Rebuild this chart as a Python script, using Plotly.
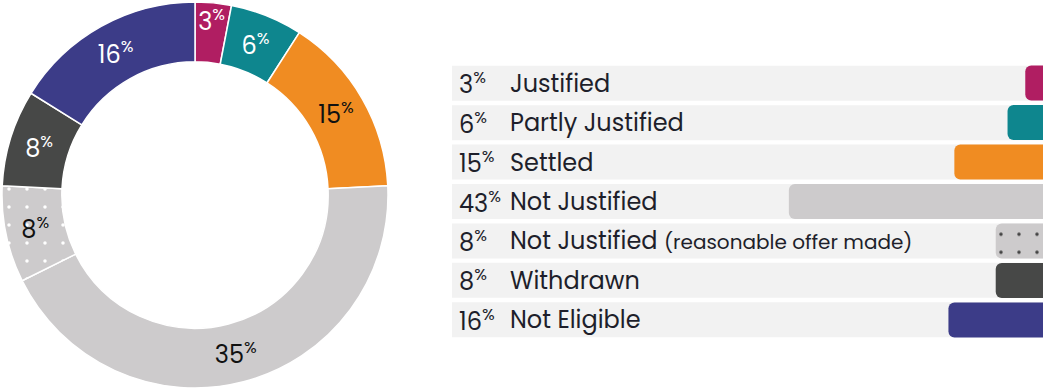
import plotly.graph_objects as go

# ---- data ----
categories = ["Justified", "Partly Justified", "Settled", "Not Justified",
              "Not Justified (reasonable offer made)", "Withdrawn", "Not Eligible"]
percentages = [3, 6, 15, 43, 8, 8, 16]
donut_labels = ["3", "6", "15", "35", "8", "8", "16"]
legend_names = ["Justified", "Partly Justified", "Settled", "Not Justified",
                "Not Justified <span style='font-size:20px'>(reasonable offer made)</span>",
                "Withdrawn", "Not Eligible"]
track_max = 100

# ---- style ----
colors = ["#B01E62", "#0E868E", "#F08C22", "#CDCBCC", "#CDCBCC", "#474847", "#3C3C88"]
patterns = ["", "", "", "", ".", "", ""]
donut_text_colors = ["white", "white", "#111111", "#111111", "#111111", "white", "white"]
FONT = "Poppins, Lato, sans-serif"
W, H = 1043, 390

pie_pattern = dict(shape=patterns, fgcolor="white", bgcolor=colors, fgopacity=1,
                   size=18, solidity=0.03, fillmode="replace")
bar_pattern = dict(shape=patterns, fgcolor="white", fgopacity=1,
                   size=18, solidity=0.03, fillmode="overlay")

fig = go.Figure()

fig.add_trace(go.Pie(
    values=percentages,
    labels=categories,
    text=[f"{t}<sup>%</sup>" for t in donut_labels],
    texttemplate="%{text}",
    textposition="inside",
    insidetextorientation="horizontal",
    textfont=dict(family=FONT, size=24, color=donut_text_colors),
    sort=False,
    direction="clockwise",
    rotation=0,
    hole=0.69,
    marker=dict(colors=colors, line=dict(color="white", width=1.5), pattern=pie_pattern),
    domain=dict(x=[2 / W, 388 / W], y=[2 / H, 388 / H]),
    showlegend=False,
    hoverinfo="label+value",
))

# background tracks (own subplot)
fig.add_trace(go.Bar(
    y=categories, x=[track_max] * len(categories), orientation="h",
    marker=dict(color="#F2F2F2", line=dict(width=0)),
    xaxis="x2", yaxis="y2", hoverinfo="skip", showlegend=False,
))
# coloured bars (overlaying subplot)
fig.add_trace(go.Bar(
    y=categories, x=percentages, orientation="h",
    marker=dict(color=colors, line=dict(width=0), cornerradius=6, pattern=bar_pattern),
    xaxis="x3", yaxis="y3", showlegend=False,
))

annotations = []
for cat, pct, name in zip(categories, percentages, legend_names):
    annotations.append(dict(
        x=457 / W, xref="paper", y=cat, yref="y2", xanchor="left", yanchor="middle",
        text=f"{pct}<sup>%</sup>", showarrow=False,
        font=dict(family=FONT, size=24, color="#1e1f2b"),
    ))
    annotations.append(dict(
        x=508 / W, xref="paper", y=cat, yref="y2", xanchor="left", yanchor="middle",
        text=name, showarrow=False,
        font=dict(family=FONT, size=24, color="#1e1f2b"),
    ))

y_dom = [1 - 339.75 / H, 1 - 63.25 / H]
x_dom = [452 / W, 1]
fig.update_layout(
    width=W, height=H,
    margin=dict(l=0, r=0, t=0, b=0),
    paper_bgcolor="white", plot_bgcolor="white",
    barmode="group", bargap=0.114,
    showlegend=False,
    uniformtext=dict(mode="show", minsize=24),
    xaxis2=dict(domain=x_dom, range=[track_max, 0], visible=False, fixedrange=True),
    yaxis2=dict(domain=y_dom, categoryorder="array", anchor="x2",
                categoryarray=categories, autorange="reversed", visible=False, fixedrange=True),
    xaxis3=dict(overlaying="x2", range=[track_max, 0], visible=False, fixedrange=True,
                anchor="y3"),
    yaxis3=dict(overlaying="y2", categoryorder="array", anchor="x3",
                categoryarray=categories, autorange="reversed", visible=False, fixedrange=True),
    annotations=annotations,
)

fig.write_html("out.html", config={"displayModeBar": False},
               post_script="document.body.style.margin='0';document.body.style.overflow='hidden';")
